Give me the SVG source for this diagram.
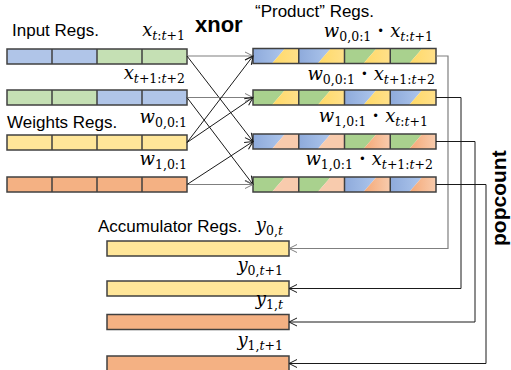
<svg xmlns="http://www.w3.org/2000/svg" width="511" height="370" viewBox="0 0 511 370">
<style>
.lbl{font-family:"Liberation Sans",Arial,sans-serif;font-size:17px;fill:#000}
.bold{font-family:"Liberation Sans",Arial,sans-serif;font-weight:bold;fill:#000}
.m{font-family:"DejaVu Serif","Liberation Serif",serif;font-size:18px;fill:#000}
.i{font-style:italic}
.s{font-size:12.5px}
.reg{fill:none;stroke:#404040;stroke-width:1.5}
.div{stroke:#404040;stroke-width:1.5}
.blue{fill:#B0C5E8}
.green{fill:#C5E0B4}
.yellow{fill:#FFE699}
.orange{fill:#F4B183}
.pb{fill:url(#gb)}
.pg{fill:#A9D18E}
.py{fill:url(#gy)}
.pp{fill:#F8CBAD}
.po{fill:url(#go)}
.c{fill:none;stroke:#1a1a1a;stroke-width:1}
.cg{fill:none;stroke:#7f7f7f;stroke-width:1.2}
</style>
<defs>
<linearGradient id="gb" x1="0" y1="0" x2="1" y2="0"><stop offset="0" stop-color="#8EAADB"/><stop offset="1" stop-color="#ADC6EC"/></linearGradient>
<linearGradient id="gy" x1="0" y1="0" x2="1" y2="0"><stop offset="0" stop-color="#FFD966"/><stop offset="1" stop-color="#FFE08A"/></linearGradient>
<linearGradient id="go" x1="0" y1="0" x2="1" y2="0"><stop offset="0" stop-color="#F4A876"/><stop offset="1" stop-color="#F8CBAD"/></linearGradient>
<marker id="ah" markerWidth="10" markerHeight="10" refX="9" refY="5" orient="auto" markerUnits="userSpaceOnUse">
<path d="M1,1 L9,5 L1,9" fill="none" stroke="#1a1a1a" stroke-width="1"/>
</marker>
<marker id="ahg" markerWidth="10" markerHeight="10" refX="9" refY="5" orient="auto" markerUnits="userSpaceOnUse">
<path d="M1,1 L9,5 L1,9" fill="none" stroke="#7f7f7f" stroke-width="1"/>
</marker>
</defs>
<rect width="511" height="370" fill="#fff"/>

<text class="lbl" x="12" y="36">Input Regs.</text>
<text class="bold" x="195" y="32" font-size="22">xnor</text>
<text class="lbl" x="255" y="17">“Product” Regs.</text>
<text class="lbl" x="7" y="128">Weights Regs.</text>
<text class="lbl" x="98" y="232">Accumulator Regs.</text>
<text class="bold" font-size="21" transform="translate(506,246) rotate(-90)">popcount</text>

<g id="input1">
<rect class="blue" x="7" y="49" width="45" height="15"/><rect class="blue" x="52" y="49" width="45" height="15"/>
<rect class="green" x="97" y="49" width="45" height="15"/><rect class="green" x="142" y="49" width="45" height="15"/>
<path class="div" d="M52,49V64M97,49V64M142,49V64"/>
<rect class="reg" x="7" y="49" width="180" height="15"/>
<text class="m" x="185" y="36" text-anchor="end"><tspan class="i">x</tspan><tspan class="s" dy="4"><tspan class="i">t</tspan>:<tspan class="i">t</tspan>+1</tspan></text>
</g>
<g id="input2">
<rect class="green" x="7" y="90" width="45" height="15"/><rect class="green" x="52" y="90" width="45" height="15"/>
<rect class="blue" x="97" y="90" width="45" height="15"/><rect class="blue" x="142" y="90" width="45" height="15"/>
<path class="div" d="M52,90V105M97,90V105M142,90V105"/>
<rect class="reg" x="7" y="90" width="180" height="15"/>
<text class="m" x="185" y="79" text-anchor="end"><tspan class="i">x</tspan><tspan class="s" dy="4"><tspan class="i">t</tspan>+1:<tspan class="i">t</tspan>+2</tspan></text>
</g>
<g id="weights1">
<rect class="yellow" x="7" y="135" width="180" height="15"/>
<path class="div" d="M52,135V150M97,135V150M142,135V150"/>
<rect class="reg" x="7" y="135" width="180" height="15"/>
<text class="m" x="187" y="123" text-anchor="end"><tspan class="i">w</tspan><tspan class="s" dy="4">0,0:1</tspan></text>
</g>
<g id="weights2">
<rect class="orange" x="7" y="177" width="180" height="15"/>
<path class="div" d="M52,177V192M97,177V192M142,177V192"/>
<rect class="reg" x="7" y="177" width="180" height="15"/>
<text class="m" x="187" y="165" text-anchor="end"><tspan class="i">w</tspan><tspan class="s" dy="4">1,0:1</tspan></text>
</g>

<g id="product1">
<polygon class="pb" points="253,48.5 285,48.5 272,63.5 253,63.5"/><polygon class="py" points="285,48.5 298.75,48.5 298.75,63.5 272,63.5"/>
<polygon class="pb" points="298.75,48.5 330.75,48.5 317.75,63.5 298.75,63.5"/><polygon class="py" points="330.75,48.5 344.5,48.5 344.5,63.5 317.75,63.5"/>
<polygon class="pg" points="344.5,48.5 376.5,48.5 363.5,63.5 344.5,63.5"/><polygon class="py" points="376.5,48.5 390.25,48.5 390.25,63.5 363.5,63.5"/>
<polygon class="pg" points="390.25,48.5 422.25,48.5 409.25,63.5 390.25,63.5"/><polygon class="py" points="422.25,48.5 436,48.5 436,63.5 409.25,63.5"/>
<path class="div" d="M298.75,48.5V63.5M344.5,48.5V63.5M390.25,48.5V63.5"/>
<rect class="reg" x="253" y="48.5" width="183" height="15"/>
<text class="m" x="433" y="37" text-anchor="end"><tspan class="i">w</tspan><tspan class="s" dy="4">0,0:1</tspan><tspan dy="-4" font-weight="bold"> · </tspan><tspan class="i">x</tspan><tspan class="s" dy="4"><tspan class="i">t</tspan>:<tspan class="i">t</tspan>+1</tspan></text>
</g>
<g id="product2">
<polygon class="pg" points="253,90 285,90 272,105 253,105"/><polygon class="py" points="285,90 298.75,90 298.75,105 272,105"/>
<polygon class="pg" points="298.75,90 330.75,90 317.75,105 298.75,105"/><polygon class="py" points="330.75,90 344.5,90 344.5,105 317.75,105"/>
<polygon class="pb" points="344.5,90 376.5,90 363.5,105 344.5,105"/><polygon class="py" points="376.5,90 390.25,90 390.25,105 363.5,105"/>
<polygon class="pb" points="390.25,90 422.25,90 409.25,105 390.25,105"/><polygon class="py" points="422.25,90 436,90 436,105 409.25,105"/>
<path class="div" d="M298.75,90V105M344.5,90V105M390.25,90V105"/>
<rect class="reg" x="253" y="90" width="183" height="15"/>
<text class="m" x="435" y="80" text-anchor="end"><tspan class="i">w</tspan><tspan class="s" dy="4">0,0:1</tspan><tspan dy="-4" font-weight="bold"> · </tspan><tspan class="i">x</tspan><tspan class="s" dy="4"><tspan class="i">t</tspan>+1:<tspan class="i">t</tspan>+2</tspan></text>
</g>
<g id="product3">
<polygon class="pb" points="253,134 285,134 272,149 253,149"/><polygon class="pp" points="285,134 298.75,134 298.75,149 272,149"/>
<polygon class="pb" points="298.75,134 330.75,134 317.75,149 298.75,149"/><polygon class="pp" points="330.75,134 344.5,134 344.5,149 317.75,149"/>
<polygon class="pg" points="344.5,134 376.5,134 363.5,149 344.5,149"/><polygon class="po" points="376.5,134 390.25,134 390.25,149 363.5,149"/>
<polygon class="pg" points="390.25,134 422.25,134 409.25,149 390.25,149"/><polygon class="po" points="422.25,134 436,134 436,149 409.25,149"/>
<path class="div" d="M298.75,134V149M344.5,134V149M390.25,134V149"/>
<rect class="reg" x="253" y="134" width="183" height="15"/>
<text class="m" x="428" y="122" text-anchor="end"><tspan class="i">w</tspan><tspan class="s" dy="4">1,0:1</tspan><tspan dy="-4" font-weight="bold"> · </tspan><tspan class="i">x</tspan><tspan class="s" dy="4"><tspan class="i">t</tspan>:<tspan class="i">t</tspan>+1</tspan></text>
</g>
<g id="product4">
<polygon class="pg" points="253,177 285,177 272,192 253,192"/><polygon class="pp" points="285,177 298.75,177 298.75,192 272,192"/>
<polygon class="pg" points="298.75,177 330.75,177 317.75,192 298.75,192"/><polygon class="pp" points="330.75,177 344.5,177 344.5,192 317.75,192"/>
<polygon class="pb" points="344.5,177 376.5,177 363.5,192 344.5,192"/><polygon class="po" points="376.5,177 390.25,177 390.25,192 363.5,192"/>
<polygon class="pb" points="390.25,177 422.25,177 409.25,192 390.25,192"/><polygon class="po" points="422.25,177 436,177 436,192 409.25,192"/>
<path class="div" d="M298.75,177V192M344.5,177V192M390.25,177V192"/>
<rect class="reg" x="253" y="177" width="183" height="15"/>
<text class="m" x="433" y="165" text-anchor="end"><tspan class="i">w</tspan><tspan class="s" dy="4">1,0:1</tspan><tspan dy="-4" font-weight="bold"> · </tspan><tspan class="i">x</tspan><tspan class="s" dy="4"><tspan class="i">t</tspan>+1:<tspan class="i">t</tspan>+2</tspan></text>
</g>

<g id="acc1">
<rect class="yellow" x="107" y="241" width="182" height="15"/><rect class="reg" x="107" y="241" width="182" height="15"/>
<text class="m" x="283" y="231" text-anchor="end"><tspan class="i">y</tspan><tspan class="s" dy="4">0,<tspan class="i">t</tspan></tspan></text>
</g>
<g id="acc2">
<rect class="yellow" x="107" y="281" width="182" height="15"/><rect class="reg" x="107" y="281" width="182" height="15"/>
<text class="m" x="283" y="271" text-anchor="end"><tspan class="i">y</tspan><tspan class="s" dy="4">0,<tspan class="i">t</tspan>+1</tspan></text>
</g>
<g id="acc3">
<rect class="orange" x="107" y="314.5" width="182" height="15"/><rect class="reg" x="107" y="314.5" width="182" height="15"/>
<text class="m" x="283" y="305" text-anchor="end"><tspan class="i">y</tspan><tspan class="s" dy="4">1,<tspan class="i">t</tspan></tspan></text>
</g>
<g id="acc4">
<rect class="orange" x="107" y="356" width="182" height="15"/><rect class="reg" x="107" y="356" width="182" height="15"/>
<text class="m" x="283" y="346" text-anchor="end"><tspan class="i">y</tspan><tspan class="s" dy="4">1,<tspan class="i">t</tspan>+1</tspan></text>
</g>

<g id="connectors">
<path class="cg" d="M187,56 L253,56" marker-end="url(#ahg)"/>
<path class="c" d="M187,56 L253,141.5" marker-end="url(#ah)"/>
<path class="cg" d="M187,97.5 L253,97.5" marker-end="url(#ahg)"/>
<path class="c" d="M187,97.5 L253,184.5" marker-end="url(#ah)"/>
<path class="c" d="M187,142.5 L253,56" marker-end="url(#ah)"/>
<path class="c" d="M187,142.5 L253,97.5" marker-end="url(#ah)"/>
<path class="cg" d="M187,184.5 L253,184.5" marker-end="url(#ahg)"/>
<path class="c" d="M187,184.5 L253,141.5" marker-end="url(#ah)"/>
<path class="cg" d="M436,56 H448 V248.5 H289" marker-end="url(#ahg)"/>
<path class="c" d="M436,97.5 H461 V288.5 H289" marker-end="url(#ah)"/>
<path class="c" d="M436,141.5 H475 V322 H289" marker-end="url(#ah)"/>
<path class="c" d="M436,184.5 H486 V363.5 H289" marker-end="url(#ah)"/>
</g>
</svg>
